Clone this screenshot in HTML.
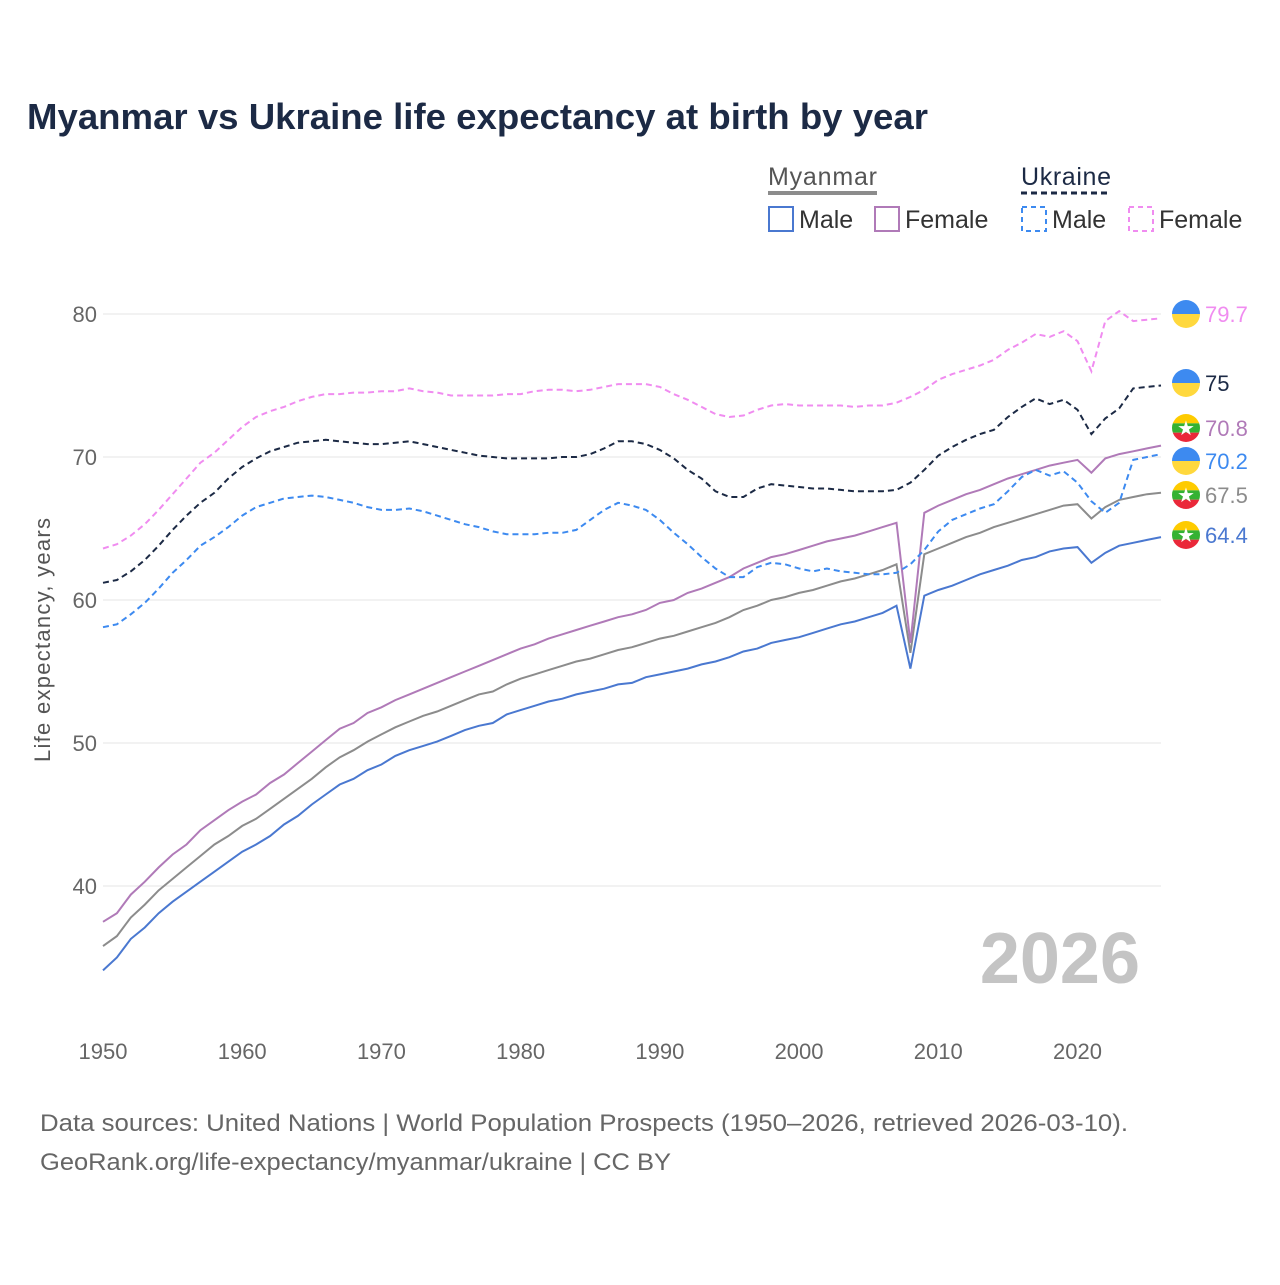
<!DOCTYPE html>
<html><head><meta charset="utf-8"><style>
body{margin:0;background:#fff;font-family:"Liberation Sans",sans-serif}
svg text{font-family:"Liberation Sans",sans-serif}
</style></head><body>
<svg id="chart" width="1280" height="1280" xmlns="http://www.w3.org/2000/svg">
<text x="27" y="129" font-size="36" font-weight="bold" fill="#1c2a45" textLength="901" lengthAdjust="spacingAndGlyphs">Myanmar vs Ukraine life expectancy at birth by year</text>
<g font-size="25" fill="#333">
<text x="768" y="185" fill="#555" textLength="109">Myanmar</text>
<line x1="768" y1="193" x2="877" y2="193" stroke="#8c8c8c" stroke-width="4"/>
<text x="1021" y="185" fill="#1c2a45" textLength="90">Ukraine</text>
<line x1="1021" y1="193" x2="1111" y2="193" stroke="#1c2a45" stroke-width="3" stroke-dasharray="6,4"/>
<rect x="769" y="207" width="24" height="24" fill="none" stroke="#4a78d0" stroke-width="2"/>
<text x="799" y="228" fill="#333">Male</text>
<rect x="875" y="207" width="24" height="24" fill="none" stroke="#b07ab8" stroke-width="2"/>
<text x="905" y="228" fill="#333">Female</text>
<rect x="1022" y="207" width="24" height="24" fill="none" stroke="#3d8af0" stroke-width="2" stroke-dasharray="5,4"/>
<text x="1052" y="228" fill="#333">Male</text>
<rect x="1129" y="207" width="24" height="24" fill="none" stroke="#f08cf0" stroke-width="2" stroke-dasharray="5,4"/>
<text x="1159" y="228" fill="#333">Female</text>
</g>
<g id="grid"></g>
<text transform="translate(50,640) rotate(-90)" text-anchor="middle" font-size="22" fill="#555" textLength="244">Life expectancy, years</text>
<text x="1140" y="983" text-anchor="end" font-size="72" font-weight="bold" fill="#c4c4c4">2026</text>
<g id="series"></g>
<g id="endlabels"></g>
<text x="40" y="1131" font-size="24" fill="#666" textLength="1088" lengthAdjust="spacingAndGlyphs">Data sources: United Nations | World Population Prospects (1950–2026, retrieved 2026-03-10).</text>
<text x="40" y="1170" font-size="24" fill="#666" textLength="631" lengthAdjust="spacingAndGlyphs">GeoRank.org/life-expectancy/myanmar/ukraine | CC BY</text>
</svg>
<script>
const yTicks=[40,50,60,70,80];
const xTicks=[1950,1960,1970,1980,1990,2000,2010,2020];
const startYear=1950;
const ukrFemale=[63.6,63.9,64.5,65.3,66.3,67.4,68.5,69.6,70.3,71.2,72.1,72.8,73.2,73.5,73.9,74.2,74.4,74.4,74.5,74.5,74.6,74.6,74.8,74.6,74.5,74.3,74.3,74.3,74.3,74.4,74.4,74.6,74.7,74.7,74.6,74.7,74.9,75.1,75.1,75.1,74.9,74.4,74.0,73.5,73.0,72.8,72.9,73.3,73.6,73.7,73.6,73.6,73.6,73.6,73.5,73.6,73.6,73.8,74.2,74.7,75.4,75.8,76.1,76.4,76.8,77.5,78.0,78.6,78.4,78.8,78.1,76.0,79.5,80.2,79.5,79.6,79.7];
const ukrTotal=[61.2,61.4,62.0,62.8,63.8,64.9,65.9,66.8,67.5,68.5,69.3,69.9,70.4,70.7,71.0,71.1,71.2,71.1,71.0,70.9,70.9,71.0,71.1,70.9,70.7,70.5,70.3,70.1,70.0,69.9,69.9,69.9,69.9,70.0,70.0,70.2,70.6,71.1,71.1,70.9,70.5,69.9,69.1,68.5,67.6,67.2,67.2,67.8,68.1,68.0,67.9,67.8,67.8,67.7,67.6,67.6,67.6,67.7,68.2,69.1,70.1,70.7,71.2,71.6,71.9,72.8,73.5,74.1,73.7,74.0,73.3,71.6,72.7,73.4,74.8,74.9,75.0];
const ukrMale=[58.1,58.3,59.0,59.8,60.8,61.9,62.8,63.8,64.4,65.1,65.9,66.5,66.8,67.1,67.2,67.3,67.2,67.0,66.8,66.5,66.3,66.3,66.4,66.2,65.9,65.6,65.3,65.1,64.8,64.6,64.6,64.6,64.7,64.7,64.9,65.6,66.3,66.8,66.6,66.3,65.6,64.7,63.9,63.0,62.2,61.6,61.6,62.3,62.6,62.5,62.2,62.0,62.2,62.0,61.9,61.8,61.8,61.9,62.5,63.5,64.8,65.6,66.0,66.4,66.7,67.6,68.6,69.1,68.7,69.0,68.2,66.9,66.1,66.8,69.8,70.0,70.2];
const mmrFemale=[37.5,38.1,39.4,40.3,41.3,42.2,42.9,43.9,44.6,45.3,45.9,46.4,47.2,47.8,48.6,49.4,50.2,51.0,51.4,52.1,52.5,53.0,53.4,53.8,54.2,54.6,55.0,55.4,55.8,56.2,56.6,56.9,57.3,57.6,57.9,58.2,58.5,58.8,59.0,59.3,59.8,60.0,60.5,60.8,61.2,61.6,62.2,62.6,63.0,63.2,63.5,63.8,64.1,64.3,64.5,64.8,65.1,65.4,57.0,66.1,66.6,67.0,67.4,67.7,68.1,68.5,68.8,69.1,69.4,69.6,69.8,68.9,69.9,70.2,70.4,70.6,70.8];
const mmrTotal=[35.8,36.5,37.8,38.7,39.7,40.5,41.3,42.1,42.9,43.5,44.2,44.7,45.4,46.1,46.8,47.5,48.3,49.0,49.5,50.1,50.6,51.1,51.5,51.9,52.2,52.6,53.0,53.4,53.6,54.1,54.5,54.8,55.1,55.4,55.7,55.9,56.2,56.5,56.7,57.0,57.3,57.5,57.8,58.1,58.4,58.8,59.3,59.6,60.0,60.2,60.5,60.7,61.0,61.3,61.5,61.8,62.1,62.5,56.3,63.2,63.6,64.0,64.4,64.7,65.1,65.4,65.7,66.0,66.3,66.6,66.7,65.7,66.5,67.0,67.2,67.4,67.5];
const mmrMale=[34.1,35.0,36.3,37.1,38.1,38.9,39.6,40.3,41.0,41.7,42.4,42.9,43.5,44.3,44.9,45.7,46.4,47.1,47.5,48.1,48.5,49.1,49.5,49.8,50.1,50.5,50.9,51.2,51.4,52.0,52.3,52.6,52.9,53.1,53.4,53.6,53.8,54.1,54.2,54.6,54.8,55.0,55.2,55.5,55.7,56.0,56.4,56.6,57.0,57.2,57.4,57.7,58.0,58.3,58.5,58.8,59.1,59.6,55.2,60.3,60.7,61.0,61.4,61.8,62.1,62.4,62.8,63.0,63.4,63.6,63.7,62.6,63.3,63.8,64.0,64.2,64.4];
const xs=y=>103+(y-1950)*(1161-103)/76;
const ys=v=>314+(80-v)*14.3;
const NS="http://www.w3.org/2000/svg";
function mk(t,a,p){const e=document.createElementNS(NS,t);for(const k in a)e.setAttribute(k,a[k]);p.appendChild(e);return e;}
const grid=document.getElementById('grid');
yTicks.forEach(t=>{
  const l=mk('line',{x1:103,x2:1161,y1:ys(t),y2:ys(t),stroke:'#e6e6e6','stroke-width':1},grid);
  
  
  const tx=mk('text',{x:97,y:ys(t)+8,'text-anchor':'end','font-size':22,fill:'#666'},grid);tx.textContent=t;
  
  
});
xTicks.forEach(t=>{
  const tx=mk('text',{x:xs(t),y:1059,'text-anchor':'middle','font-size':22,fill:'#666'},grid);tx.textContent=t;
  
  
});
const series=[
 {d:mmrTotal,c:'#8c8c8c',dash:null,n:'myanmar-total-line'},
 {d:mmrMale,c:'#4a78d0',dash:null,n:'myanmar-male-line'},
 {d:mmrFemale,c:'#b07ab8',dash:null,n:'myanmar-female-line'},
 {d:ukrMale,c:'#3d8af0',dash:'6,4',n:'ukraine-male-line'},
 {d:ukrFemale,c:'#f08cf0',dash:'6,4',n:'ukraine-female-line'},
 {d:ukrTotal,c:'#1c2a45',dash:'6,4',n:'ukraine-total-line'}
];
const sg=document.getElementById('series');
series.forEach(s=>{
  const pts=s.d.map((v,i)=>xs(startYear+i).toFixed(1)+','+ys(v).toFixed(1)).join(' ');
  const a={points:pts,fill:'none',stroke:s.c,'stroke-width':2};
  if(s.dash)a['stroke-dasharray']=s.dash;
  const p=mk('polyline',a,sg);
  
  
});
const eg=document.getElementById('endlabels');
const labels=[
 {d:ukrFemale,c:'#f08cf0',f:'ua',y:314},
 {d:ukrTotal,c:'#1c2a45',f:'ua',y:383},
 {d:mmrFemale,c:'#b07ab8',f:'mm',y:428},
 {d:ukrMale,c:'#3d8af0',f:'ua',y:461},
 {d:mmrTotal,c:'#8c8c8c',f:'mm',y:495},
 {d:mmrMale,c:'#4a78d0',f:'mm',y:535}
];
labels.forEach(L=>{
  const v=L.d[L.d.length-1];
  const g=mk('g',{},eg);
  
  
  const cx=1186,cy=L.y,r=14;
  const cp='cp'+cy;
  const clip=mk('clipPath',{id:cp},g);mk('circle',{cx,cy,r},clip);
  if(L.f==='ua'){
    mk('rect',{x:cx-r,y:cy-r,width:2*r,height:r,fill:'#3d8af0','clip-path':'url(#'+cp+')'},g);
    mk('rect',{x:cx-r,y:cy,width:2*r,height:r,fill:'#ffd83d','clip-path':'url(#'+cp+')'},g);
  }else{
    mk('rect',{x:cx-r,y:cy-r,width:2*r,height:2*r/3,fill:'#fecb00','clip-path':'url(#'+cp+')'},g);
    mk('rect',{x:cx-r,y:cy-r/3,width:2*r,height:2*r/3,fill:'#34b233','clip-path':'url(#'+cp+')'},g);
    mk('rect',{x:cx-r,y:cy+r/3,width:2*r,height:2*r/3,fill:'#ea2839','clip-path':'url(#'+cp+')'},g);
    const st=mk('text',{x:cx,y:cy+7,'text-anchor':'middle','font-size':20,fill:'#fff'},g);st.textContent='★';
  }
  const t=mk('text',{x:1205,y:cy+8,'font-size':22,fill:L.c},g);t.textContent=v;
});
</script>
</body></html>
